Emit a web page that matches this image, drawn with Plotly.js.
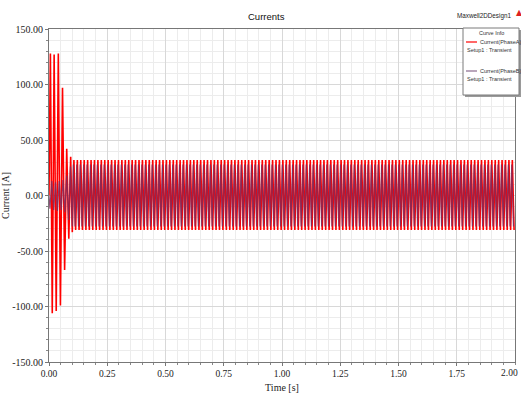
<!DOCTYPE html>
<html><head><meta charset="utf-8">
<script src="https://cdn.plot.ly/plotly-3.0.1.min.js"></script>
<style>html,body{margin:0;padding:0;background:#fff}#chart{width:521px;height:395px}</style>
</head><body><div id="chart"></div>
<script>
// ---- data ----
// start-up transient: successive peaks of each phase current (time in s, current in A)
const transTimeA = [0, 0.006, 0.014, 0.022, 0.031, 0.040, 0.049, 0.058, 0.067, 0.076, 0.085, 0.093, 0.100];
const transPeakA = [0, 128, -106, 127, -104, 128, -99, 97, -67, 42, -39, 35, -33];
const transTimeB = [0, 0.004, 0.012, 0.020, 0.028, 0.036, 0.044, 0.052, 0.060, 0.068, 0.076, 0.084, 0.092, 0.100];
const transPeakB = [0, -12, 13, -13, 12, -14, 13, -13, 14, -15, 18, -22, 26, -28];
// steady-state peak envelope (value of the positive / negative peaks in each stretch)
const envTime  = [0.10, 0.25, 0.50, 0.75, 1.00, 1.25, 1.50, 1.75, 2.00];
const envAHigh = [32, 32, 32, 32, 32, 32, 32, 32, 32];
const envALow  = [-31, -31, -31, -31, -31, -31, -31, -31, -31];
const envBHigh = [28, 28, 28, 28, 28, 28, 28, 28, 28];
const envBLow  = [-28, -28, -28, -28, -28, -28, -28, -28, -28];
const steadyPeriod = 0.0147;     // one electrical period, s
const seriesNames = ['Current(PhaseA)', 'Current(PhaseB)'];
const xTicks = [0, 0.25, 0.5, 0.75, 1, 1.25, 1.5, 1.75, 2];
const xTickText = ['0.00', '0.25', '0.50', '0.75', '1.00', '1.25', '1.50', '1.75', '2.00'];
const yTicks = [-150, -100, -50, 0, 50, 100, 150];
const yTickText = ['-150.00', '-100.00', '-50.00', '0.00', '50.00', '100.00', '150.00'];

// successive steady-state peaks: each peak takes the envelope value of its stretch
function steadyPeaks(tStart, hi, lo) {
  const t = [], v = [];
  let sign = 1, k = 0;
  for (let tt = tStart; tt <= 2.0; tt += steadyPeriod / 2) {
    while (k < envTime.length - 1 && tt >= envTime[k + 1]) k++;
    t.push(tt); v.push(sign > 0 ? hi[k] : lo[k]);
    sign = -sign;
  }
  return {t, v};
}
const sA = steadyPeaks(0.107, envAHigh, envALow);
const sB = steadyPeaks(0.1045, envBHigh, envBLow);

const traceA = {x: transTimeA.concat(sA.t), y: transPeakA.concat(sA.v), type: 'scatter', mode: 'lines',
  name: seriesNames[0], line: {color: '#ff0000', width: 1.6}};
const traceB = {x: transTimeB.concat(sB.t), y: transPeakB.concat(sB.v), type: 'scatter', mode: 'lines',
  name: seriesNames[1], line: {color: 'rgba(125,45,95,0.85)', width: 1.2}};

// ---- layout helpers (pixel -> paper) ----
const L = 49, R = 515, T = 29, B = 362;
const px = x => (x - L) / (R - L);
const py = y => (B - y) / (B - T);
const smallFont = {family: 'Liberation Sans, Arial, sans-serif', size: 5.5, color: '#333'};
const serif = 'Liberation Serif, Times New Roman, serif';

const shapes = [
  // legend shadow and box
  {type: 'rect', xref: 'paper', yref: 'paper', x0: px(465), x1: px(521), y0: py(97), y1: py(30),
   fillcolor: '#9a9a9a', line: {width: 0}},
  {type: 'rect', xref: 'paper', yref: 'paper', x0: px(463), x1: px(519), y0: py(95), y1: py(28),
   fillcolor: '#ffffff', line: {color: '#7a7a7a', width: 1}},
  {type: 'line', xref: 'paper', yref: 'paper', x0: px(466), x1: px(477), y0: py(42), y1: py(42),
   line: {color: '#ff0000', width: 1.2}},
  {type: 'line', xref: 'paper', yref: 'paper', x0: px(466), x1: px(477), y0: py(71), y1: py(71),
   line: {color: '#8a6a8e', width: 1.2}}
];
const ann = (text, x, y, xanchor, font) => ({text, x: px(x), y: py(y), xref: 'paper', yref: 'paper',
  xanchor: xanchor || 'left', yanchor: 'middle', showarrow: false, font: font || smallFont});
const annotations = [
  ann('Currents', 266, 16, 'center', {family: 'Liberation Sans, Arial, sans-serif', size: 9.5, color: '#111'}),
  ann('Maxwell2DDesign1', 455, 16, 'left', {family: 'Liberation Sans, Arial, sans-serif', size: 6.3, color: '#222'}),
  ann('▲', 514, 13, 'left', {family: 'DejaVu Sans', size: 8, color: '#dd2222'}),
  ann('Curve Info', 491, 33, 'center'),
  ann('Current(PhaseA)', 478, 42, 'left'),
  ann('Setup1 : Transient', 465, 50, 'left'),
  ann('Current(PhaseB)', 478, 71, 'left'),
  ann('Setup1 : Transient', 465, 79, 'left'),
  // last x tick label, kept inside the picture's right edge
  {text: xTickText[xTickText.length - 1], x: px(520), y: py(373), xref: 'paper', yref: 'paper',
   xanchor: 'right', yanchor: 'middle', showarrow: false, font: {family: serif, size: 9.5, color: '#222'}}
];

const layout = {
  width: 521, height: 395,
  margin: {l: L, r: 521 - R, t: T, b: 395 - B, pad: 0},
  paper_bgcolor: '#ffffff', plot_bgcolor: '#ffffff',
  showlegend: false,
  xaxis: {
    range: [0, 2], tickmode: 'array', tickvals: xTicks.slice(0, -1), ticktext: xTickText.slice(0, -1),
    tickfont: {family: serif, size: 9.5, color: '#222'},
    showgrid: true, gridcolor: '#d8d8d8', gridwidth: 1,
    minor: {dtick: 0.05, showgrid: true, gridcolor: '#ececec', ticks: 'outside', ticklen: 2, tickcolor: '#888'},
    ticks: 'outside', ticklen: 3, tickcolor: '#777',
    showline: true, linecolor: '#777', linewidth: 1, mirror: true, zeroline: false,
    title: {text: 'Time [s]', font: {family: serif, size: 10, color: '#222'}, standoff: 5}
  },
  yaxis: {
    range: [-150, 150], tickmode: 'array', tickvals: yTicks, ticktext: yTickText,
    tickfont: {family: serif, size: 10, color: '#222'},
    showgrid: true, gridcolor: '#d8d8d8', gridwidth: 1,
    minor: {dtick: 10, showgrid: true, gridcolor: '#ececec', ticks: 'outside', ticklen: 2, tickcolor: '#888'},
    ticks: 'outside', ticklen: 3, tickcolor: '#777',
    showline: true, linecolor: '#777', linewidth: 1, mirror: true, zeroline: false,
    title: {text: 'Current [A]', font: {family: serif, size: 10, color: '#222'}, standoff: 4}
  },
  shapes, annotations
};
Plotly.newPlot('chart', [traceA, traceB], layout, {staticPlot: true, displayModeBar: false});
</script></body></html>
